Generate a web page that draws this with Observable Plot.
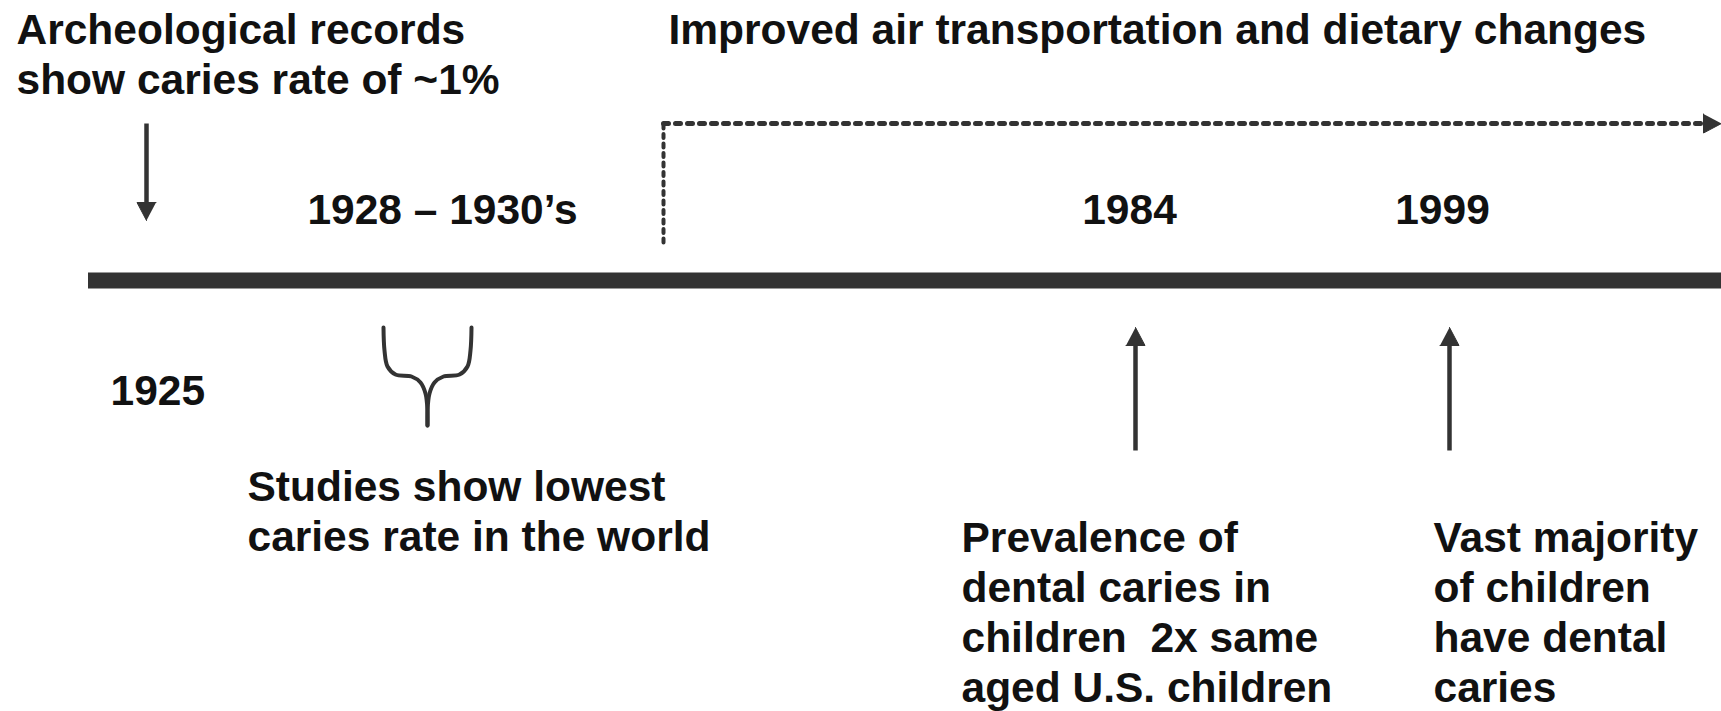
<!DOCTYPE html>
<html>
<head>
<meta charset="utf-8">
<script src="https://cdn.jsdelivr.net/npm/d3@7"></script>
<script src="https://cdn.jsdelivr.net/npm/@observablehq/plot@0.6"></script>
<style>
  html, body { margin: 0; padding: 0; background: #fff; }
  #chart svg { display: block; }
</style>
</head>
<body>
<div id="chart"></div>
<script>
// ---- Canvas (diagram coordinates = reference pixels) ----
const W = 1721, H = 711;

// ---- Text content ----
const headingTexts = ["Archeological records\nshow caries rate of ~1%", "Improved air transportation and dietary changes"];
const headingX = [16, 668];
const headingBaseline = [43, 43];

const yearLabels = ["1928 – 1930’s", "1984", "1999"];
const yearX = [442, 1129, 1442];
const yearBaseline = [223, 223, 223];

const noteTexts = [
  "1925",
  "Studies show lowest\ncaries rate in the world",
  "Prevalence of\ndental caries in\nchildren\u00a0 2x same\naged U.S. children",
  "Vast majority\nof children\nhave dental\ncaries"
];
const noteX = [110, 247, 961, 1433];
const noteBaseline = [404, 500, 551, 551];

// ---- Timeline geometry ----
const timelineY = [280];
const timelineStart = [88];
const timelineEnd = [W];

// arrows: tail -> tip
const arrowX1 = [146, 1135, 1449];
const arrowY1 = [123, 450, 450];
const arrowX2 = [146, 1135, 1449];
const arrowY2 = [220, 327, 327];

// dotted "era" line: vertical leg then horizontal leg with arrow
const eraVX = [663, 663];
const eraVY = [242, 123];
const eraHX = [663, 1721];
const eraHY = [123, 123];

// curly bracket (two mirrored halves)
const bracketLeftX  = [383, 384, 387, 395, 411, 420, 425, 427, 427];
const bracketLeftY  = [327, 350, 366, 374, 376, 382, 393, 410, 425];
const bracketCenter = 427;

// ---- Styles ----
const INK = "#333333";
const TEXT = "#111111";
const FONT = "'Liberation Sans', Arial, Helvetica, sans-serif";
const FS = 42.5;
const LH = 50 / 42.5;
const HEAD_LEN = 18, HEAD_HALF = 9.5;

// ---- Build tables ----
const headings = headingTexts.map((t, i) => ({text: t, x: headingX[i], y: headingBaseline[i]}));
const years = yearLabels.map((t, i) => ({text: t, x: yearX[i], y: yearBaseline[i]}));
const notes = noteTexts.map((t, i) => ({text: t, x: noteX[i], y: noteBaseline[i]}));
const timeline = timelineY.map((y, i) => ({y, x1: timelineStart[i], x2: timelineEnd[i]}));

const arrows = arrowX1.map((x1, i) => ({x1, y1: arrowY1[i], x2: arrowX2[i], y2: arrowY2[i]}));
const allArrowTips = [
  ...arrows,
  {x1: eraHX[0], y1: eraHY[0], x2: eraHX[1], y2: eraHY[1]}
];

function headPoints(a, id) {
  const dx = a.x2 - a.x1, dy = a.y2 - a.y1;
  const len = Math.hypot(dx, dy);
  const ux = dx / len, uy = dy / len;
  const bx = a.x2 - ux * HEAD_LEN, by = a.y2 - uy * HEAD_LEN;
  const px = -uy, py = ux;
  return [
    {id, x: a.x2, y: a.y2},
    {id, x: bx + px * HEAD_HALF, y: by + py * HEAD_HALF},
    {id, x: bx - px * HEAD_HALF, y: by - py * HEAD_HALF}
  ];
}
const heads = allArrowTips.flatMap((a, i) => headPoints(a, i));
const shafts = arrows.map(a => {
  const dx = a.x2 - a.x1, dy = a.y2 - a.y1;
  const len = Math.hypot(dx, dy);
  return {x1: a.x1, y1: a.y1, x2: a.x2 - dx / len * (HEAD_LEN - 2), y2: a.y2 - dy / len * (HEAD_LEN - 2)};
});

const eraV = eraVX.map((x, i) => ({x, y: eraVY[i]}));
const eraH = [{x: eraHX[0], y: eraHY[0]}, {x: eraHX[1] - HEAD_LEN, y: eraHY[1]}];

const bracket = [
  ...bracketLeftX.map((x, i) => ({side: "L", x, y: bracketLeftY[i]})),
  ...bracketLeftX.map((x, i) => ({side: "R", x: 2 * bracketCenter - x, y: bracketLeftY[i]}))
];

const textOpts = {
  x: "x", y: "y", text: "text",
  fontFamily: FONT, fontSize: FS, fontWeight: "bold",
  lineHeight: LH, lineAnchor: "top",
  dy: -0.71 * LH * FS,
  fill: TEXT
};

const chart = Plot.plot({
  width: W,
  height: H,
  margin: 0,
  x: {domain: [0, W], range: [0, W], axis: null},
  y: {domain: [0, H], range: [0, H], axis: null},
  style: {background: "#fff", overflow: "visible"},
  marks: [
    // main timeline bar
    Plot.ruleY(timeline, {y: "y", x1: "x1", x2: "x2", stroke: INK, strokeWidth: 16}),
    // dotted era line
    Plot.line(eraV, {x: "x", y: "y", stroke: INK, strokeWidth: 4, strokeDasharray: "4,5.5"}),
    Plot.line(eraH, {x: "x", y: "y", stroke: INK, strokeWidth: 5, strokeDasharray: "5,7"}),
    // arrows
    Plot.link(shafts, {x1: "x1", y1: "y1", x2: "x2", y2: "y2", stroke: INK, strokeWidth: 4.5}),
    Plot.line(heads, {x: "x", y: "y", z: "id", fill: INK, stroke: INK, strokeWidth: 1}),
    // curly bracket
    Plot.line(bracket, {x: "x", y: "y", z: "side", curve: "catmull-rom", stroke: INK, strokeWidth: 4, strokeLinecap: "round", strokeLinejoin: "round"}),
    // texts
    Plot.text(headings, {...textOpts, textAnchor: "start"}),
    Plot.text(years, {...textOpts, textAnchor: "middle"}),
    Plot.text(notes, {...textOpts, textAnchor: "start"})
  ]
});

document.getElementById("chart").appendChild(chart);
</script>
</body>
</html>
